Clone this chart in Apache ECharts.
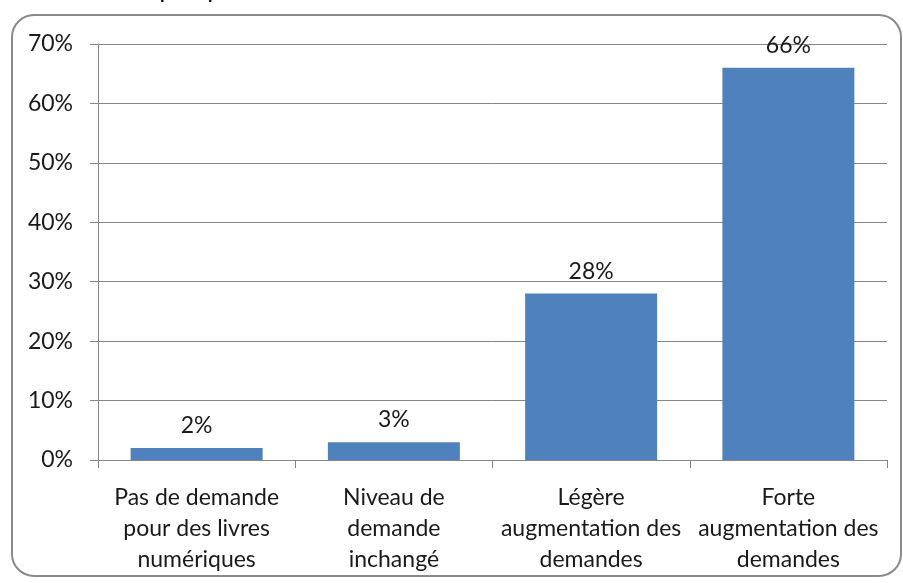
<!DOCTYPE html>
<html>
<head>
<meta charset="utf-8">
<script src="https://cdn.jsdelivr.net/npm/echarts@6/dist/echarts.min.js"></script>
<style>
    html, body { margin: 0; padding: 0; background: #fff; }
    #chart { width: 903px; height: 583px; }
</style>
</head>
<body>
<div id="chart"></div>
<script>
    var categories = [
        'Pas de demande\npour des livres\nnumériques',
        'Niveau de\ndemande\ninchangé',
        'Légère\naugmentation des\ndemandes',
        'Forte\naugmentation des\ndemandes'
    ];
    var values = [2, 3, 28, 66];
    var yTicks = [0, 10, 20, 30, 40, 50, 60, 70];

    var chart = echarts.init(document.getElementById('chart'));
    var font = 'Lato, "Liberation Sans", sans-serif';

    var option = {
        animation: false,
        graphic: [
            {
                type: 'rect',
                shape: { x: 12, y: 15, width: 889, height: 561, r: 22 },
                style: { fill: 'none', stroke: '#8a8a8a', lineWidth: 2 },
                z: -1
            },
            {
                // titre coupé en haut de l'image
                type: 'text',
                left: 160,
                top: -17,
                style: {
                    text: 'publiques du secteur de l\'édition',
                    font: 'bold 19px Lato, sans-serif',
                    fill: '#000'
                }
            }
        ],
        grid: {
            left: 98,
            right: 16,
            top: 44,
            bottom: 123
        },
        xAxis: {
            type: 'category',
            data: categories,
            axisLine: { lineStyle: { color: '#868686', width: 1 } },
            axisTick: { show: true, length: 8, lineStyle: { color: '#868686' } },
            axisLabel: {
                color: '#1a1a1a',
                fontFamily: font,
                fontSize: 23,
                lineHeight: 31,
                margin: 22,
                interval: 0
            }
        },
        yAxis: {
            type: 'value',
            min: 0,
            max: 70,
            interval: 10,
            axisLine: { show: true, lineStyle: { color: '#868686', width: 1 } },
            axisTick: { show: true, length: 8, lineStyle: { color: '#868686' } },
            splitLine: { show: true, lineStyle: { color: '#868686', width: 1 } },
            axisLabel: {
                color: '#1a1a1a',
                fontFamily: font,
                fontSize: 23,
                margin: 25,
                formatter: function (v) {
                    return yTicks.indexOf(v) >= 0 ? v + '%' : '';
                }
            }
        },
        series: [
            {
                type: 'bar',
                data: values,
                barWidth: 132,
                itemStyle: { color: '#4f81bd' },
                label: {
                    show: true,
                    position: 'top',
                    distance: 11,
                    color: '#1a1a1a',
                    fontFamily: font,
                    fontSize: 23,
                    formatter: '{c}%'
                }
            }
        ]
    };
    chart.setOption(option);
</script>
</body>
</html>
